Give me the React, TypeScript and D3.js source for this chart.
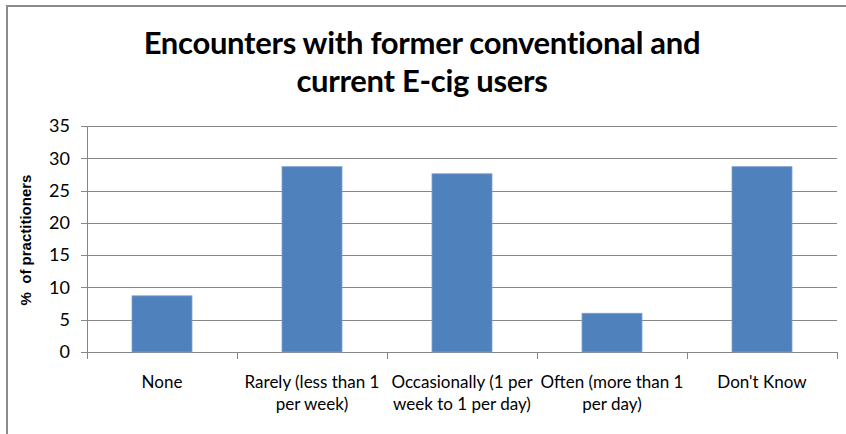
import React from "react";
import * as d3 from "d3";

// Survey responses: share of practitioners per encounter frequency
const categories: string[][] = [
  ["None"],
  ["Rarely (less than 1", "per week)"],
  ["Occasionally (1 per", "week to 1 per day)"],
  ["Often (more than 1", "per day)"],
  ["Don't Know"],
];
const values: number[] = [8.7, 28.7, 27.6, 6.0, 28.7];
const yTicks: number[] = [0, 5, 10, 15, 20, 25, 30, 35];
const titleLines: string[] = [
  "Encounters with former conventional and",
  "current E-cig users",
];
const yTitle = "%  of practitioners";

const W = 846;
const H = 434;
const plot = { left: 87, right: 837, top: 126, bottom: 352 };
const axisColor = "#868686";
const barColor = "#4F81BD";
const labelFont = "Lato, 'Open Sans', sans-serif";

export default function App() {
  const keys = categories.map((_, i) => String(i));
  const x = d3
    .scaleBand<string>()
    .domain(keys)
    .range([plot.left, plot.right])
    .paddingInner(0.6)
    .paddingOuter(0.3);
  const band = d3.scaleBand<string>().domain(keys).range([plot.left, plot.right]);
  const y = d3.scaleLinear().domain([0, 35]).range([plot.bottom, plot.top]);

  const boundaries = [plot.left, ...keys.map((k) => (band(k) as number) + band.bandwidth())];

  return (
    <svg
      width={W}
      height={H}
      style={{ position: "absolute", left: 0, top: 0, background: "#fff" }}
    >
      <rect x={0} y={0} width={W} height={H} fill="#fff" />
      {/* chart frame */}
      <rect x={7} y={6} width={W + 20} height={H + 20} fill="none" stroke="#8c8c8c" strokeWidth={2} />

      {/* title */}
      {titleLines.map((t, i) => (
        <text
          key={i}
          x={422}
          y={54 + i * 38}
          textAnchor="middle"
          fontFamily={labelFont}
          fontWeight={700}
          fontSize={31}
          letterSpacing={-0.3}
          fill="#000"
        >
          {t}
        </text>
      ))}

      {/* gridlines */}
      {yTicks.map((t) => (
        <line
          key={"g" + t}
          x1={plot.left - 6}
          x2={plot.right}
          y1={Math.round(y(t)) + 0.5}
          y2={Math.round(y(t)) + 0.5}
          stroke={axisColor}
          strokeWidth={1}
        />
      ))}

      {/* y axis */}
      <line
        x1={plot.left + 0.5}
        x2={plot.left + 0.5}
        y1={plot.top}
        y2={plot.bottom + 6}
        stroke={axisColor}
      />
      {yTicks.map((t) => (
        <text
          key={"yt" + t}
          x={70}
          y={y(t)}
          dy="0.35em"
          textAnchor="end"
          fontFamily={labelFont}
          fontSize={18}
          fill="#000"
        >
          {t}
        </text>
      ))}
      <text
        transform={`translate(31,${(plot.top + plot.bottom) / 2 + 1}) rotate(-90)`}
        textAnchor="middle"
        fontFamily="'Liberation Sans', Arial, sans-serif"
        fontWeight={700}
        fontSize={15}
        style={{ whiteSpace: "pre" }}
        fill="#000"
      >
        {yTitle}
      </text>

      {/* category ticks */}
      {boundaries.map((b, i) => (
        <line
          key={"ct" + i}
          x1={Math.round(b) + 0.5}
          x2={Math.round(b) + 0.5}
          y1={plot.bottom}
          y2={plot.bottom + 7}
          stroke={axisColor}
        />
      ))}

      {/* bars */}
      {values.map((v, i) => (
        <rect
          key={"b" + i}
          x={x(String(i))}
          y={y(v)}
          width={x.bandwidth()}
          height={y(0) - y(v)}
          fill={barColor}
          stroke="#7fa2d0"
          strokeWidth={0.8}
        />
      ))}

      {/* category labels */}
      {categories.map((lines, i) => (
        <text
          key={"cl" + i}
          textAnchor="middle"
          fontFamily={labelFont}
          fontSize={17}
          fill="#000"
        >
          {lines.map((l, j) => (
            <tspan key={j} x={(band(String(i)) as number) + band.bandwidth() / 2} y={388 + j * 22}>
              {l}
            </tspan>
          ))}
        </text>
      ))}
    </svg>
  );
}
